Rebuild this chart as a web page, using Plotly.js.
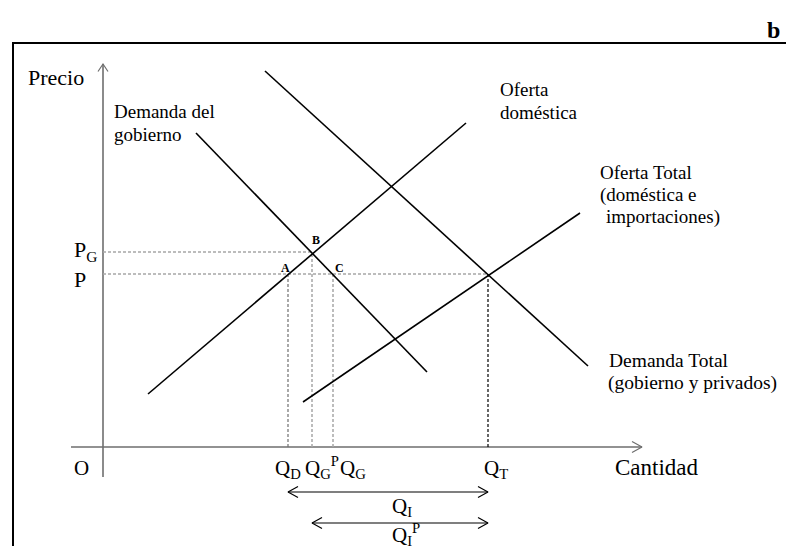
<!DOCTYPE html>
<html>
<head>
<meta charset="utf-8">
<script src="https://cdn.plot.ly/plotly-3.0.1.min.js"></script>
<style>html,body{margin:0;padding:0;background:#fff;}#chart{width:786px;height:546px;}</style>
</head>
<body>
<div id="chart"></div>
<script>
// ---- Data (economic units: quantity Q, price P) ----
const ofertaDomQ = [4.5, 36.3];
const ofertaDomP = [5.3, 32.4];
const demGobQ = [9.3, 32.4];
const demGobP = [31.4, 7.5];
const demTotQ = [16.2, 48.5];
const demTotP = [37.6, 8.1];
const ofTotQ = [20.0, 47.7];
const ofTotP = [4.5, 23.4];

const precios = {P: 17.3, PG: 19.5};
const cantidades = {QD: 18.5, QGP: 20.9, QG: 23.0, QT: 38.5};

const yAxisExtent = [-3.0, 38.3];
const xAxisExtent = [-3.2, 53.9];
const arrowQI_P = -4.5;
const arrowQIP_P = -7.6;

// ---- helpers ----
const traces = [];
function line(xs, ys, color, width, dash) {
  traces.push({type: 'scatter', mode: 'lines', x: xs, y: ys,
    line: {color: color, width: width, dash: dash || 'solid'}, hoverinfo: 'skip'});
}
const HL = 1.0, HW = 0.55; // arrowhead size (style)
function chevronRight(x, y, c, w) { line([x - HL, x, x - HL], [y + HW, y, y - HW], c, w); }
function chevronLeft(x, y, c, w) { line([x + HL, x, x + HL], [y + HW, y, y - HW], c, w); }
function chevronUp(x, y, c, w) { line([x - 0.5, x, x + 0.5], [y - 0.75, y, y - 0.75], c, w); }

// axes
const axisColor = '#6e6e6e';
line([0, 0], yAxisExtent, axisColor, 1.6);
chevronUp(0, yAxisExtent[1], axisColor, 1.2);
line(xAxisExtent, [0, 0], axisColor, 1.6);
chevronRight(xAxisExtent[1], 0, axisColor, 1.2);

// guide lines
const lightDash = '#a6a6a6';
line([0, cantidades.QGP], [precios.PG, precios.PG], lightDash, 1.5, '3px,2px');
line([0, cantidades.QT], [precios.P, precios.P], lightDash, 1.5, '3px,2px');
line([cantidades.QD, cantidades.QD], [0, precios.P], '#707070', 1.2, '3px,2px');
line([cantidades.QGP, cantidades.QGP], [0, precios.PG], lightDash, 1.5, '3px,2px');
line([cantidades.QG, cantidades.QG], [0, precios.P], lightDash, 1.5, '3px,2px');
line([cantidades.QT, cantidades.QT], [0, precios.P], '#000', 1.2, '3px,2px');

// curves
line(ofertaDomQ, ofertaDomP, '#000', 1.6);
line(demGobQ, demGobP, '#000', 1.6);
line(demTotQ, demTotP, '#000', 1.6);
line(ofTotQ, ofTotP, '#000', 1.6);

// double arrows
line([cantidades.QD, cantidades.QT], [arrowQI_P, arrowQI_P], '#000', 1.2);
chevronLeft(cantidades.QD, arrowQI_P, '#000', 1.2);
chevronRight(cantidades.QT, arrowQI_P, '#000', 1.2);
line([cantidades.QGP, cantidades.QT], [arrowQIP_P, arrowQIP_P], '#000', 1.2);
chevronLeft(cantidades.QGP, arrowQIP_P, '#000', 1.2);
chevronRight(cantidades.QT, arrowQIP_P, '#000', 1.2);

// labels
const F = 'Liberation Serif, Times New Roman, serif';
function lab(text, x, y, size, opts) {
  return Object.assign({text: text, x: x, y: y, xref: 'x', yref: 'y', showarrow: false,
    xanchor: 'left', yanchor: 'middle', font: {family: F, size: size, color: '#000'}}, opts || {});
}
const annotations = [
  lab('Precio', -7.7, 37.0, 22),
  lab('Demanda del', 0.9, 33.6, 19),
  lab('gobierno', 0.9, 31.3, 19),
  lab('Oferta', 39.5, 35.8, 19),
  lab('doméstica', 39.5, 33.5, 19),
  lab('Oferta Total', 49.5, 27.5, 19),
  lab('(doméstica e', 49.5, 25.2, 19),
  lab('importaciones)', 50.1, 23.0, 19),
  lab('Demanda Total', 50.4, 8.7, 19.5),
  lab('(gobierno y privados)', 50.3, 6.4, 19.5),
  lab('P<sub>G</sub>', -3.1, 19.6, 22),
  lab('P', -3.1, 16.8, 22),
  lab('O', -3.1, -2.1, 21),
  lab('Q<sub>D</sub>', 17.0, -2.2, 21),
  lab('Q<sub>G</sub><sup>P</sup>', 20.0, -2.0, 21),
  lab('Q<sub>G</sub>', 23.5, -2.2, 21),
  lab('Q<sub>T</sub>', 37.9, -2.2, 21),
  lab('Cantidad', 51.0, -2.0, 23),
  lab('Q<sub>I</sub>', 28.7, -6.0, 21),
  lab('Q<sub>I</sub><sup>P</sup>', 28.7, -8.7, 21),
  lab('<b>A</b>', 18.2, 17.9, 12, {xanchor: 'center'}),
  lab('<b>B</b>', 21.3, 20.7, 12, {xanchor: 'center'}),
  lab('<b>C</b>', 23.6, 17.9, 12, {xanchor: 'center'}),
  lab('<b>b</b>', 67.0, 41.7, 24, {xanchor: 'center'})
];

const layout = {
  width: 786, height: 546,
  margin: {l: 0, r: 0, t: 0, b: 0, pad: 0},
  paper_bgcolor: '#fff', plot_bgcolor: '#fff',
  showlegend: false,
  xaxis: {range: [-10.3, 68.3], visible: false, fixedrange: true},
  yaxis: {range: [-9.9, 44.7], visible: false, fixedrange: true},
  annotations: annotations,
  shapes: [{type: 'rect', xref: 'paper', yref: 'paper',
    x0: 13 / 786, x1: 1.05, y0: -0.05, y1: 1 - 43 / 546,
    line: {color: '#000', width: 2}, fillcolor: 'rgba(0,0,0,0)', layer: 'above'}]
};

Plotly.newPlot('chart', traces, layout, {staticPlot: true, displayModeBar: false});
</script>
</body>
</html>
